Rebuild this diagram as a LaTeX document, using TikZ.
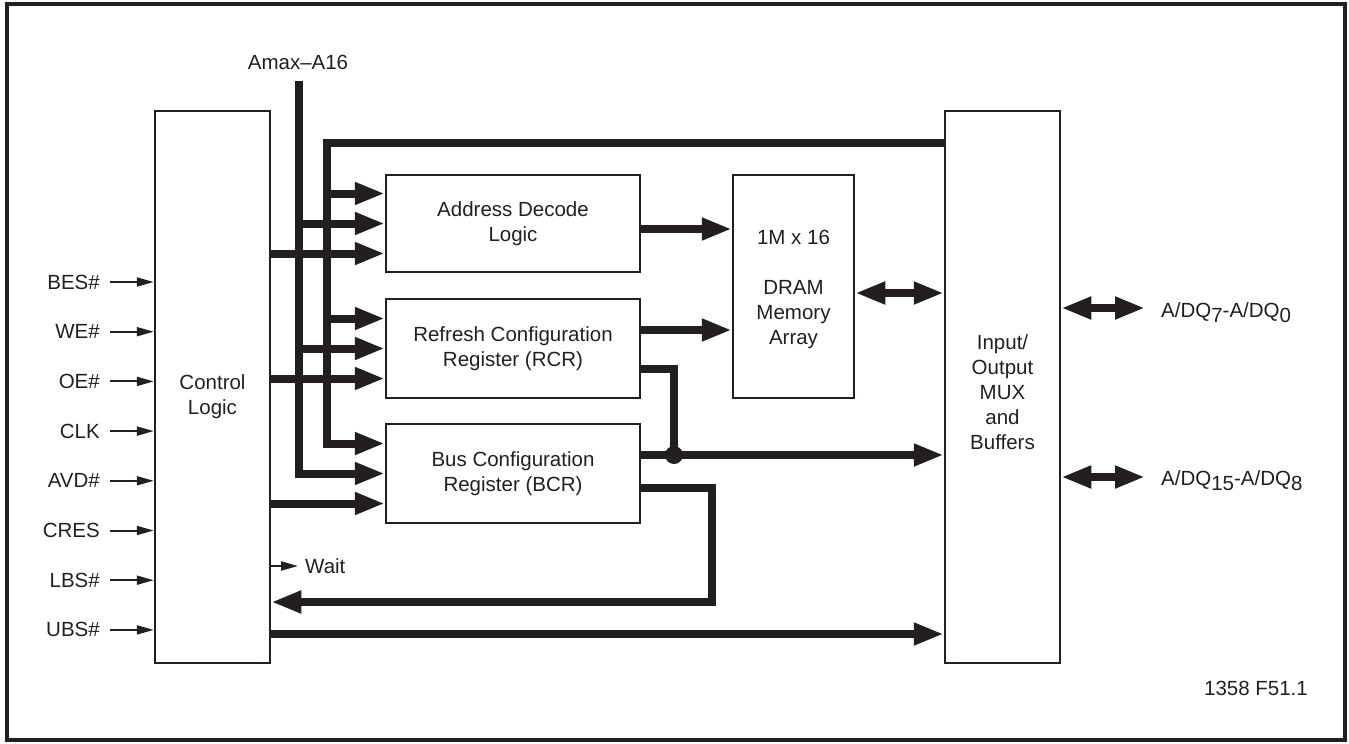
\documentclass[tikz,border=0pt]{standalone}
\usepackage{fontspec}
\setmainfont{Liberation Sans}
\usetikzlibrary{arrows.meta}
\definecolor{ink}{HTML}{231F20}
\newcommand{\lowsub}[1]{\raisebox{-5pt}{#1}}
\tikzset{
  bus/.style={draw=ink, line width=8pt, -{Triangle[length=30pt,width=21pt]}},
  busline/.style={draw=ink, line width=8pt},
  dbus/.style={draw=ink, line width=8pt, {Triangle[length=30pt,width=21pt]}-{Triangle[length=30pt,width=21pt]}},
  sig/.style={draw=ink, line width=2pt, -{Triangle[length=17pt,width=9pt]}},
  blk/.style={draw=ink, line width=2.5pt, align=center, inner sep=0pt, text=ink},
  lbl/.style={text=ink, inner sep=0pt}
}

\begin{document}
\begin{tikzpicture}[x=1pt, y=-1pt, font=\fontsize{20.5}{25}\selectfont]
  \useasboundingbox (0,0) rectangle (1349,744);
  \draw[ink, line width=4pt] (7,4) rectangle (1345,740);

  % blocks
  \node[blk, minimum width=115pt, minimum height=552pt,
    label={[lbl, align=center, yshift=-10pt]center:Control\\Logic}] (ctrl) at (212.5,387) {};
  \node[blk, minimum width=115pt, minimum height=552pt,
    label={[lbl, align=center, yshift=-5pt]center:Input/\\Output\\MUX\\and\\Buffers}] (io) at (1002.5,387) {};
  \node[blk, minimum width=254pt, minimum height=97pt] (ad) at (513,223.5) {Address Decode\\Logic};
  \node[blk, minimum width=254pt, minimum height=99pt] (rcr) at (513,348.5) {Refresh Configuration\\Register (RCR)};
  \node[blk, minimum width=254pt, minimum height=99pt] (bcr) at (513,473.5) {Bus Configuration\\Register (BCR)};
  \node[blk, minimum width=121pt, minimum height=223pt,
    label={[lbl, align=center, yshift=-3pt]center:1M x 16\\[25pt]DRAM\\Memory\\Array}] (dram) at (793.5,286.5) {};

  % inputs of the control logic
  \foreach \sname [count=\i from 0] in {BES\#, WE\#, OE\#, CLK, AVD\#, CRES, LBS\#, UBS\#} {
    \node[lbl, anchor=east] (in\i) at (100,282+49.7*\i) {\sname};
    \draw[sig] ([xshift=10pt]in\i.east) -- (ctrl.west |- in\i.east);
  }

  % address buses
  \node[lbl] (amaxlbl) at (298,62) {Amax\textendash A16};
  \coordinate (amax) at (299,81);
  \coordinate (abus) at (327,143);
  \foreach \b in {ad,rcr,bcr}
    \path ([yshift=30pt]\b.west) coordinate (\b-1) ([yshift=-30pt]\b.west) coordinate (\b-3);
  \draw[bus] (io.west |- abus) -- (abus) |- (bcr-1);
  \draw[bus] (abus |- ad-1) -- (ad-1);
  \draw[bus] (abus |- rcr-1) -- (rcr-1);
  \draw[bus] (amax) |- (bcr.west);
  \draw[bus] (amax |- ad.west) -- (ad.west);
  \draw[bus] (amax |- rcr.west) -- (rcr.west);
  \foreach \b in {ad,rcr,bcr}
    \draw[bus] (ctrl.east |- \b-3) -- (\b-3);
  \draw[bus] (ctrl.east |- 0,634) -- (io.west |- 0,634);

  % to the memory array
  \draw[bus] (ad.east |- 0,229) -- (dram.west |- 0,229);
  \draw[bus] (rcr.east |- 0,330) -- (dram.west |- 0,330);
  \draw[dbus] (dram.east |- 0,293) -- (io.west |- 0,293);

  % register outputs
  \coordinate (jn) at (674,455);
  \draw[busline] (rcr.east |- 0,369) -| (jn);
  \draw[bus] (bcr.east |- jn) -- (io.west |- jn);
  \fill[ink] (jn) circle (9pt);
  \coordinate (fb) at (712,602);
  \draw[bus] (bcr.east |- 0,488) -| (fb) -- (ctrl.east |- fb);

  % wait
  \node[lbl, anchor=west] (wait) at (305,566) {Wait};
  \draw[sig] (ctrl.east |- wait.west) -- ([xshift=-7pt]wait.west);

  % data pins
  \coordinate (dq0) at (1145,308);
  \coordinate (dq8) at (1145,477);
  \draw[dbus] (io.east |- dq0) -- (dq0);
  \draw[dbus] (io.east |- dq8) -- (dq8);
  \node[lbl, anchor=base west] (dqlo) at (1161,317) {A/DQ\lowsub{7}-A/DQ\lowsub{0}};
  \node[lbl, anchor=base west] (dqhi) at (1161,485) {A/DQ\lowsub{15}-A/DQ\lowsub{8}};

  \node[lbl] (fig) at (1256,688) {1358 F51.1};
\end{tikzpicture}
\end{document}
